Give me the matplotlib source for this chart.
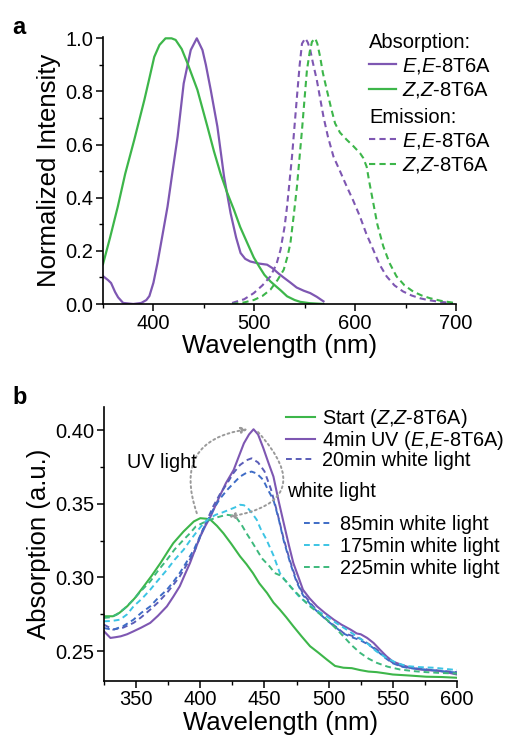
import numpy as np
import matplotlib
matplotlib.use("Agg")
import matplotlib.pyplot as plt
from matplotlib.legend import Legend
from matplotlib.ticker import StrMethodFormatter

plt.rcParams['font.family'] = ['Liberation Sans', 'DejaVu Sans']
plt.rcParams['mathtext.fontset'] = 'custom'
plt.rcParams['mathtext.rm'] = 'Liberation Sans'
plt.rcParams['mathtext.it'] = 'Liberation Sans:italic'

# ---- panel a: normalized absorption / emission ----
abs_ee_x = [350, 355, 358, 362, 365, 370, 380, 388, 393, 396, 400, 404, 409, 414, 419, 424, 430, 437, 443,
            448.6, 452, 456.8, 463.4, 470, 476.5, 482, 486.4, 491, 496, 505, 512.7, 518, 524, 529, 536, 542,
            549, 555.5, 562, 568.6]
abs_ee_y = [0.105, 0.09, 0.079, 0.045, 0.025, 0.004, 0.0, 0.004, 0.015, 0.03, 0.08, 0.154, 0.26, 0.367, 0.5,
            0.63, 0.83, 0.956, 1.0, 0.956, 0.9, 0.806, 0.668, 0.48, 0.342, 0.25, 0.192, 0.17, 0.16, 0.152, 0.148,
            0.135, 0.115, 0.1, 0.08, 0.062, 0.05, 0.041, 0.027, 0.01]

abs_zz_x = [350, 357, 364.7, 372, 381, 391, 396, 400.8, 406, 412, 418, 422, 428, 433.8, 443.6, 453.5, 460,
            466.6, 473, 479.8, 486, 493, 499.5, 505, 510, 516, 522, 526, 532.5, 540, 545.6, 555, 568.6]
abs_zz_y = [0.15, 0.25, 0.367, 0.49, 0.618, 0.768, 0.85, 0.93, 0.975, 1.0, 1.0, 0.994, 0.96, 0.906, 0.806,
            0.668, 0.575, 0.49, 0.42, 0.355, 0.29, 0.23, 0.175, 0.14, 0.11, 0.085, 0.065, 0.052, 0.029, 0.015,
            0.008, 0.003, 0.0]

em_ee_x = [478, 490, 499.5, 508, 516, 522, 526, 530, 532.5, 537.4, 542.3, 545, 547.3, 550.5, 553, 555.5, 558,
           562, 568.6, 573, 578.5, 585, 591.7, 598, 604.8, 611, 618, 624, 631.2, 639, 647.6, 656, 664, 672,
           680.5, 690, 697]
em_ee_y = [0.004, 0.018, 0.041, 0.07, 0.104, 0.15, 0.204, 0.29, 0.367, 0.555, 0.78, 0.9, 0.98, 1.0, 0.985,
           0.956, 0.91, 0.843, 0.705, 0.63, 0.555, 0.5, 0.442, 0.39, 0.329, 0.265, 0.204, 0.15, 0.104, 0.07,
           0.047, 0.032, 0.022, 0.015, 0.01, 0.006, 0.003]

em_zz_x = [478, 490, 499.5, 508, 516, 523, 529.2, 533, 535.8, 539, 542.3, 547.3, 550, 552.2, 555, 557.2, 560.4,
           562.5, 565.3, 568, 571.9, 576, 580.1, 585, 591.7, 598, 604.8, 608, 611.4, 614, 618, 622, 627.9, 634,
           641, 649, 657.5, 666, 674, 685, 697]
em_zz_y = [0.0, 0.006, 0.015, 0.03, 0.054, 0.09, 0.129, 0.18, 0.229, 0.33, 0.442, 0.655, 0.78, 0.88, 0.95,
           0.987, 1.0, 0.98, 0.93, 0.87, 0.806, 0.74, 0.68, 0.645, 0.618, 0.595, 0.568, 0.55, 0.517, 0.46, 0.38,
           0.3, 0.217, 0.155, 0.104, 0.07, 0.047, 0.032, 0.022, 0.012, 0.005]

# ---- panel b: absorption during photoisomerization ----
start_x = [325, 332, 337, 343, 349, 356, 362, 369, 375, 379, 387, 395, 400, 405, 408, 413, 418, 424, 431, 436,
           441, 446, 452, 457, 462, 467, 472.5, 479, 485.5, 492, 498.5, 505, 511.5, 518, 524.5, 531, 537.5,
           544, 550, 563, 576, 588, 600]
start_y = [0.2737, 0.2737, 0.276, 0.2804, 0.286, 0.294, 0.301, 0.3098, 0.318, 0.3233, 0.3312, 0.338, 0.3402,
           0.3398, 0.3391, 0.335, 0.330, 0.323, 0.3143, 0.309, 0.303, 0.296, 0.2895, 0.283, 0.2782, 0.273,
           0.2669, 0.26, 0.2534, 0.249, 0.2444, 0.240, 0.2388, 0.2385, 0.2372, 0.2362, 0.2358, 0.235, 0.2342,
           0.2335, 0.2327, 0.2325, 0.232]

uv4_x = [325, 330, 334, 338, 343, 348, 354, 361, 367, 374, 379, 384, 388, 392, 396, 400, 404, 408, 415, 420,
         426, 430, 434, 438, 441.5, 445, 449, 453, 457, 461, 465, 469, 472.5, 477, 480, 485, 491, 497, 504, 510,
         517, 522, 525, 530, 535, 540, 545, 550, 556, 563, 571, 580, 587, 593, 600]
uv4_y = [0.2635, 0.259, 0.2595, 0.2601, 0.2615, 0.2635, 0.266, 0.2692, 0.274, 0.2804, 0.287, 0.294, 0.302,
         0.3098, 0.319, 0.3278, 0.335, 0.3413, 0.3549, 0.364, 0.3729, 0.382, 0.391, 0.397, 0.4005, 0.397, 0.388,
         0.378, 0.3684, 0.352, 0.3369, 0.322, 0.3098, 0.299, 0.2917, 0.286, 0.2804, 0.276, 0.2714, 0.268,
         0.2647, 0.262, 0.2615, 0.259, 0.2556, 0.251, 0.2466, 0.243, 0.241, 0.239, 0.2376, 0.237, 0.2365,
         0.2355, 0.2342]

w20_x = [325, 332, 340, 348, 354, 361, 367, 374, 379, 384, 389, 395, 402, 410, 415, 421, 426, 431, 436, 440,
         445, 450, 455, 460, 465, 470, 475, 480, 488, 498.5, 505, 511.5, 518, 524.5, 531, 537.5, 544, 550, 557,
         563, 572, 582, 591, 600]
w20_y = [0.268, 0.2647, 0.266, 0.2692, 0.273, 0.2782, 0.283, 0.2895, 0.295, 0.3007, 0.308, 0.3166, 0.3323,
         0.3481, 0.356, 0.3639, 0.371, 0.3763, 0.3795, 0.3808, 0.378, 0.372, 0.36, 0.344, 0.326, 0.311, 0.298,
         0.289, 0.2804, 0.2714, 0.267, 0.2624, 0.2605, 0.2585, 0.255, 0.2511, 0.246, 0.2421, 0.2398, 0.2388,
         0.238, 0.2372, 0.2365, 0.2358]

w85_x = [325, 332, 340, 348, 354, 361, 367, 374, 379, 384, 389, 395, 402, 410, 415, 421, 426, 431, 436, 440,
         444, 449, 453, 457, 461, 465, 470, 475, 480, 488, 498.5, 505, 511.5, 518, 524.5, 531, 537.5, 544, 550,
         557, 563, 572, 582, 591, 600]
w85_y = [0.2657, 0.2645, 0.267, 0.2714, 0.276, 0.2804, 0.286, 0.2917, 0.297, 0.303, 0.31, 0.3188, 0.3323,
         0.3459, 0.353, 0.3594, 0.364, 0.3684, 0.371, 0.3718, 0.3705, 0.3662, 0.359, 0.3526, 0.34, 0.325, 0.31,
         0.297, 0.288, 0.2795, 0.271, 0.2665, 0.262, 0.2595, 0.2575, 0.2545, 0.2505, 0.2455, 0.2418, 0.2395,
         0.2385, 0.2378, 0.237, 0.2362, 0.2355]

w175_x = [325, 331, 337.5, 343, 348, 355, 361, 367, 374, 380, 387, 392, 396.5, 400, 404, 408, 412, 417, 422.5,
          427, 431, 434, 437, 440, 444, 447, 451.6, 457, 462, 467, 472.5, 477, 483, 490, 498.5, 506, 514, 522,
          529.7, 537, 545, 553, 561, 571, 582, 591, 600]
w175_y = [0.2703, 0.2705, 0.2714, 0.275, 0.2804, 0.286, 0.2917, 0.298, 0.3052, 0.312, 0.3188, 0.325, 0.3301,
          0.334, 0.338, 0.3405, 0.3425, 0.344, 0.3459, 0.3475, 0.3493, 0.349, 0.347, 0.344, 0.3391, 0.333,
          0.3256, 0.315, 0.303, 0.297, 0.2917, 0.287, 0.2827, 0.278, 0.2737, 0.269, 0.2647, 0.26, 0.2556, 0.25,
          0.2455, 0.242, 0.2399, 0.2392, 0.2388, 0.238, 0.2372]

w225_x = [325, 330, 335, 341, 348, 354, 361, 367, 374, 380, 387, 392, 396.5, 402, 407.6, 414, 420.6, 425,
          428.4, 432, 436, 440, 444, 448, 454, 458, 462, 467, 471, 475, 480, 485.5, 492, 498.5, 505, 511.5, 518,
          524.5, 531, 537.5, 546, 555.6, 566, 576, 588, 600]
w225_y = [0.2726, 0.273, 0.2748, 0.279, 0.285, 0.291, 0.2973, 0.3045, 0.312, 0.319, 0.3256, 0.33, 0.3346,
          0.337, 0.3391, 0.341, 0.3425, 0.342, 0.3402, 0.336, 0.330, 0.3245, 0.3188, 0.313, 0.3075, 0.303,
          0.3015, 0.2973, 0.293, 0.2895, 0.285, 0.2804, 0.276, 0.2714, 0.266, 0.2601, 0.254, 0.2489, 0.245,
          0.2421, 0.2395, 0.2376, 0.2365, 0.2358, 0.2352, 0.2349]

purple = '#7E57B2'
green = '#3DB64A'
c20 = '#5A5DB8'
c85 = '#3E6CC6'
c175 = '#3CC4E4'
c225 = '#3DB97C'

fig = plt.figure(figsize=(5.09, 7.44), dpi=100)
ax1 = fig.add_axes([103/509, 1-304/744, 353/509, 267/744])
ax2 = fig.add_axes([104/509, 1-680.7/744, 353/509, 274/744])

for ax in (ax1, ax2):
    ax.spines['top'].set_visible(False)
    ax.spines['right'].set_visible(False)
    ax.spines['left'].set_linewidth(1.2)
    ax.spines['bottom'].set_linewidth(1.2)
    ax.tick_params(which='major', direction='out', length=5, width=1.1, labelsize=14.5, pad=2)
    ax.tick_params(which='minor', direction='out', length=3, width=1.0)

# panel a
l_ee, = ax1.plot(abs_ee_x, abs_ee_y, color=purple, lw=1.6)
l_zz, = ax1.plot(abs_zz_x, abs_zz_y, color=green, lw=1.6)
e_ee, = ax1.plot(em_ee_x, em_ee_y, color=purple, lw=1.5, ls=(0, (3, 2)))
e_zz, = ax1.plot(em_zz_x, em_zz_y, color=green, lw=1.5, ls=(0, (3, 2)))
ax1.set_xlim(350, 700)
ax1.set_ylim(0, 1.005)
ax1.set_xticks([400, 500, 600, 700])
ax1.set_xticks([350, 450, 550, 650], minor=True)
ax1.set_yticks([0.0, 0.2, 0.4, 0.6, 0.8, 1.0])
ax1.set_yticks([0.1, 0.3, 0.5, 0.7, 0.9], minor=True)
ax1.yaxis.set_major_formatter(StrMethodFormatter('{x:.1f}'))
ax1.set_xlabel('Wavelength (nm)', fontsize=18.5, labelpad=1)
ax1.set_ylabel('Normalized Intensity', fontsize=18.5, labelpad=3)

leg_kw = dict(frameon=False, fontsize=14.5, title_fontsize=14.5, handlelength=1.35, handletextpad=0.3,
              labelspacing=0.2, borderpad=0, borderaxespad=0, alignment='left', loc='upper left')
leg1 = ax1.legend([l_ee, l_zz], [r'$E$,$E$-8T6A', r'$Z$,$Z$-8T6A'], title='Absorption:',
                  bbox_to_anchor=(369/509, 1-33/744), bbox_transform=fig.transFigure, **leg_kw)
leg2 = Legend(ax1, [e_ee, e_zz], [r'$E$,$E$-8T6A', r'$Z$,$Z$-8T6A'], title='Emission:',
              bbox_to_anchor=(369/509, 1-108/744), bbox_transform=fig.transFigure, **leg_kw)
ax1.add_artist(leg2)

# panel b
s1, = ax2.plot(start_x, start_y, color=green, lw=1.5)
s2, = ax2.plot(uv4_x, uv4_y, color=purple, lw=1.5)
s3, = ax2.plot(w20_x, w20_y, color=c20, lw=1.4, ls=(0, (3, 2)))
s4, = ax2.plot(w85_x, w85_y, color=c85, lw=1.4, ls=(0, (3, 2)))
s5, = ax2.plot(w175_x, w175_y, color=c175, lw=1.4, ls=(0, (3, 2)))
s6, = ax2.plot(w225_x, w225_y, color=c225, lw=1.4, ls=(0, (3, 2)))
ax2.set_xlim(325, 600)
ax2.set_ylim(0.23, 0.4158)
ax2.set_xticks([350, 400, 450, 500, 550, 600])
ax2.set_xticks([325, 375, 425, 475, 525, 575], minor=True)
ax2.set_yticks([0.25, 0.30, 0.35, 0.40])
ax2.set_yticks([0.275, 0.325, 0.375], minor=True)
ax2.yaxis.set_major_formatter(StrMethodFormatter('{x:.2f}'))
ax2.set_xlabel('Wavelength (nm)', fontsize=18.5, labelpad=1)
ax2.set_ylabel('Absorption (a.u.)', fontsize=18.5, labelpad=3)

leg_kw_b = dict(frameon=False, fontsize=14.3, handlelength=1.45, handletextpad=0.35,
                labelspacing=-0.05, borderpad=0, borderaxespad=0, loc='upper left')
leg3 = ax2.legend([s1, s2, s3], [r'Start ($Z$,$Z$-8T6A)', r'4min UV ($E$,$E$-8T6A)', '20min white light'],
                  bbox_to_anchor=(286/509, 1-407/744), bbox_transform=fig.transFigure, **leg_kw_b)
leg4 = Legend(ax2, [s4, s5, s6], ['85min white light', '175min white light', '225min white light'],
              bbox_to_anchor=(304/509, 1-515/744), bbox_transform=fig.transFigure,
              **dict(leg_kw_b, labelspacing=0.16))
ax2.add_artist(leg4)

# dotted circular arrows
arc_kw = dict(arrowstyle='-|>', color='#9A9A9A', lw=1.4, ls=':', mutation_scale=9, shrinkA=0, shrinkB=0)
ax2.annotate('', xy=(437, 0.4005), xytext=(397.3, 0.3436),
             arrowprops=dict(connectionstyle='arc3,rad=-0.6', **arc_kw))
ax2.annotate('', xy=(422.4, 0.3411), xytext=(445, 0.3986),
             arrowprops=dict(connectionstyle='arc3,rad=-0.9', **arc_kw))
ax2.text(370, 0.3779, 'UV light', fontsize=14.3, va='center', ha='center')
ax2.text(467.5, 0.3582, 'white light', fontsize=14.3, va='center', ha='left')

fig.text(12/509, 1-27/744, 'a', fontsize=17, fontweight='bold', va='center', ha='left')
fig.text(12/509, 1-398/744, 'b', fontsize=17, fontweight='bold', va='center', ha='left')

fig.savefig('out.png', dpi=100)
